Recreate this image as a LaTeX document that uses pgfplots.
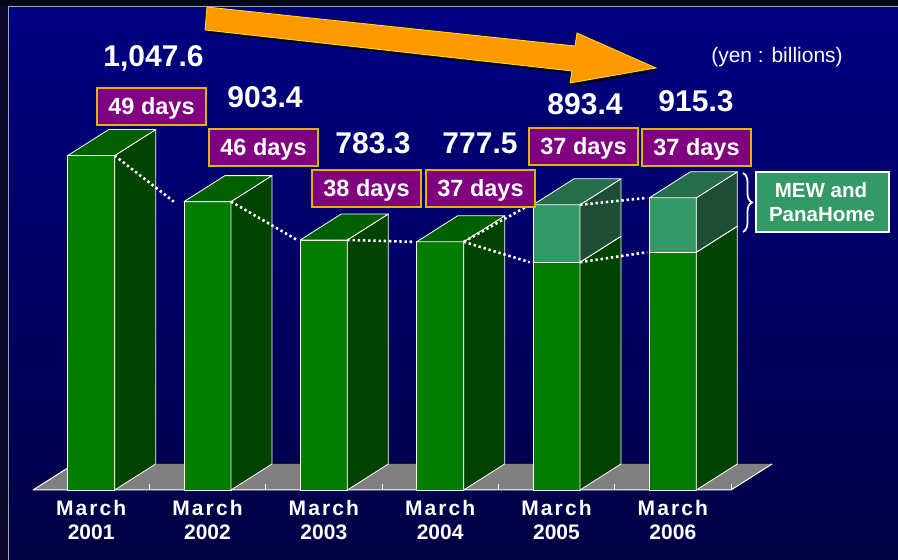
\documentclass[border=0pt]{standalone}
\usepackage{pgfplots}
\pgfplotsset{compat=1.18}
\usepackage{fontspec}
\setmainfont{Liberation Sans}
\usetikzlibrary{decorations.pathreplacing}
\definecolor{frontG}{HTML}{007D00}
\definecolor{sideG}{HTML}{004200}
\definecolor{topG}{HTML}{006000}
\definecolor{frontM}{HTML}{339966}
\definecolor{sideM}{HTML}{1E4D36}
\definecolor{topM}{HTML}{266E4B}
\definecolor{floorgray}{HTML}{808080}
\definecolor{boxpurple}{HTML}{800080}
\definecolor{boxgold}{HTML}{D8B800}
\definecolor{arrowor}{HTML}{FF9900}
\definecolor{navytop}{HTML}{000082}
\definecolor{navymid}{HTML}{00006C}
\definecolor{navybot}{HTML}{000044}

% one box of a 3D bar: x centre, lower value, upper value, front, side, top colours
\newcommand\cube[6]{%
  \pgfmathsetmacro\xl{#1-0.202}%
  \pgfmathsetmacro\xr{#1+0.202}%
  \pgfmathsetmacro\xrb{#1+0.5545}%
  \pgfmathsetmacro\xlb{#1+0.1505}%
  \pgfmathsetmacro\lb{#2+81.5}%
  \pgfmathsetmacro\hb{#3+81.5}%
  \addplot[fill=#4, draw=white, line width=0.8pt] coordinates {(\xl,#2) (\xr,#2) (\xr,#3) (\xl,#3)} -- cycle;
  \addplot[fill=#5, draw=white, line width=0.8pt] coordinates {(\xr,#2) (\xrb,\lb) (\xrb,\hb) (\xr,#3)} -- cycle;
  \addplot[fill=#6, draw=white, line width=0.8pt] coordinates {(\xl,#3) (\xr,#3) (\xrb,\hb) (\xlb,\hb)} -- cycle;
}
\newcommand\daybox[3]{%
  \pgfmathsetmacro\yt{560-#2}%
  \pgfmathsetmacro\yb{560-#2-37}%
  \pgfmathsetmacro\xe{#1+109}%
  \pgfmathsetmacro\xc{#1+54.5}%
  \pgfmathsetmacro\ybase{560-#2-27}%
  \fill[boxpurple] (#1pt,\yb pt) rectangle (\xe pt,\yt pt);
  \draw[boxgold, line width=1.2pt] (#1pt,\yb pt) rectangle (\xe pt,\yt pt);
  \node[anchor=base, inner sep=0pt, text=white, font=\bfseries\fontsize{23.5}{26}\selectfont] at (\xc pt,\ybase pt) {#3};
}
\newcommand\vallabel[3]{%
  \node[anchor=base, inner sep=0pt, text=white, font=\bfseries\fontsize{30}{32}\selectfont] at (#1pt,{(560-#2)*1pt}) {#3};
}
\pgfplotsset{dotline/.style={white, line width=2.6pt, dash pattern=on 2.4pt off 2.8pt}}

\begin{document}
\begin{tikzpicture}
% background
\fill[color={rgb,255:red,5;green,5;blue,26}] (0,0) rectangle (898pt,560pt);
\shade[top color={rgb,255:red,10;green,10;blue,40}, middle color={rgb,255:red,50;green,50;blue,200}, bottom color={rgb,255:red,10;green,10;blue,40}] (0,0) rectangle (8pt,554pt);
\shade[top color=navytop, middle color=navymid, bottom color=navybot] (8pt,0) rectangle (898pt,554pt);
\draw[color={rgb,255:red,160;green,160;blue,190}, line width=1pt] (8.5pt,0) -- (8.5pt,553.5pt) -- (898pt,553.5pt);

\begin{axis}[
  at={(33pt,70pt)}, anchor=south west,
  scale only axis, width=698pt, height=446.9pt,
  xmin=-0.5, xmax=5.5, ymin=0, ymax=1400,
  clip=false, no markers,
  axis line style={draw=none}, tick style={draw=none},
  ytick=\empty,
  xtick={0,1,2,3,4,5},
  xticklabels={{{\addfontfeature{LetterSpace=10}March}\\2001},
               {{\addfontfeature{LetterSpace=10}March}\\2002},
               {{\addfontfeature{LetterSpace=10}March}\\2003},
               {{\addfontfeature{LetterSpace=10}March}\\2004},
               {{\addfontfeature{LetterSpace=10}March}\\2005},
               {{\addfontfeature{LetterSpace=10}March}\\2006}},
  xticklabel style={text=white, align=center, inner sep=0pt, anchor=north, yshift=-10pt,
    font=\bfseries\fontsize{21}{24.5}\selectfont},
  every axis plot/.append style={line join=round},
]
% floor
\addplot[fill=floorgray, draw=none] coordinates {(-0.5,0) (5.5,0) (5.8525,81.5) (-0.1475,81.5)} -- cycle;
\addplot[white, line width=1pt] coordinates {(-0.1475,81.5) (-0.5,0) (5.5,0) (5.8525,81.5)};
\addplot[white, ycomb, line width=1pt] coordinates {(0.5,19) (1.5,19) (2.5,19) (3.5,19) (4.5,19) (5.5,19)};
% bars: total values 1047.6, 903.4, 783.3, 777.5, 893.4, 915.3
\cube{0}{0}{1047.6}{frontG}{sideG}{topG}
\cube{1}{0}{903.4}{frontG}{sideG}{topG}
\cube{2}{0}{783.3}{frontG}{sideG}{topG}
\cube{3}{0}{777.5}{frontG}{sideG}{topG}
\cube{4}{0}{713.6}{frontG}{sideG}{topG}
\cube{4}{713.6}{893.4}{frontM}{sideM}{topM}
\cube{5}{0}{745.0}{frontG}{sideG}{topG}
\cube{5}{745.0}{915.3}{frontM}{sideM}{topM}
% dotted connecting lines
\addplot[dotline] coordinates {(0.202,1047.6) (0.71,903.4)};
\addplot[dotline] coordinates {(1.202,903.4) (1.77,783.3)};
\addplot[dotline] coordinates {(2.202,783.3) (2.76,777.5)};
\addplot[dotline] coordinates {(3.202,777.5) (3.77,893.4)};
\addplot[dotline] coordinates {(3.202,777.5) (3.77,713.6)};
\addplot[dotline] coordinates {(4.202,893.4) (4.78,915.3)};
\addplot[dotline] coordinates {(4.202,713.6) (4.78,745.0)};
\end{axis}

% arrow
\fill[black, opacity=0.75] (210pt,550pt) -- (578pt,511pt) -- (580pt,524pt) -- (659pt,489pt) -- (573pt,474pt) -- (575pt,486pt) -- (208pt,527pt) -- cycle;
\filldraw[fill=arrowor, draw={rgb,255:red,255;green,230;blue,0}, line width=0.8pt, line join=miter]
  (207pt,553pt) -- (575pt,514pt) -- (577pt,527pt) -- (656pt,492pt) -- (570pt,477pt) -- (572pt,489pt) -- (205pt,530pt) -- cycle;

% value labels
\vallabel{153.5}{67}{1,047.6}
\vallabel{265}{108}{903.4}
\vallabel{373}{154}{783.3}
\vallabel{480}{154}{777.5}
\vallabel{585}{115}{893.4}
\vallabel{696}{112}{915.3}

% day boxes
\daybox{97}{88}{49 days}
\daybox{209}{129}{46 days}
\daybox{312}{170}{38 days}
\daybox{426}{170}{37 days}
\daybox{529}{128}{37 days}
\daybox{642}{129}{37 days}

% unit
\node[anchor=base, inner sep=0pt, text=white, font=\fontsize{21}{24}\selectfont] at (777pt,497pt) {(yen : billions)};

% brace and MEW box
\draw[white, line width=1.8pt, decorate, decoration={brace, amplitude=9pt}] (743pt,387pt) -- (743pt,328pt);
\filldraw[fill=frontM, draw=white, line width=2pt] (756pt,388pt) rectangle (889pt,328pt);
\node[anchor=base, inner sep=0pt, text=white, font=\bfseries\fontsize{20.5}{23}\selectfont] at (821pt,362pt) {MEW and};
\node[anchor=base, inner sep=0pt, text=white, font=\bfseries\fontsize{20.5}{23}\selectfont] at (822pt,338pt) {PanaHome};

\pgfresetboundingbox
\path (0,0) rectangle (898pt,560pt);
\end{tikzpicture}
\end{document}
